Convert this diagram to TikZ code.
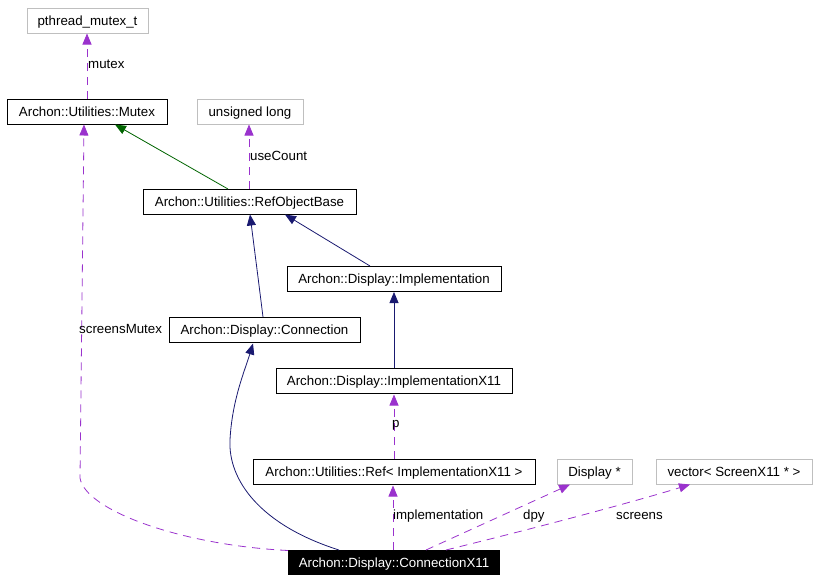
\documentclass[tikz,border=0pt]{standalone}
\usepackage{fontspec}
\setmainfont{Liberation Sans}
\usetikzlibrary{arrows.meta}
\definecolor{edgepurple}{RGB}{154,50,205}
\definecolor{edgenavy}{RGB}{25,25,112}
\definecolor{edgegreen}{RGB}{0,100,0}
\definecolor{boxgray}{RGB}{191,191,191}
\begin{document}
\begin{tikzpicture}[x=1pt,y=-1pt,
  every node/.style={font=\fontsize{13.3}{15}\selectfont},
  boxtext/.style={text height=9.6pt,text depth=0pt},
  cls/.style={boxtext,draw=black,line width=0.9pt,rectangle,inner sep=0pt,minimum height=25pt},
  ext/.style={boxtext,draw=boxgray,line width=0.9pt,rectangle,inner sep=0pt,minimum height=25pt},
  mainbox/.style={boxtext,fill=black,text=white,rectangle,inner sep=0pt,minimum height=25pt},
  inh/.style={-{Triangle[length=11pt,width=9pt,fill=edgenavy]},line width=0.8pt,draw=edgenavy},
  inhg/.style={-{Triangle[length=11pt,width=9pt,fill=edgegreen]},line width=0.8pt,draw=edgegreen},
  use/.style={-{Triangle[length=11pt,width=9pt,fill=edgepurple]},line width=0.8pt,draw=edgepurple,dash pattern=on 8pt off 6pt},
  lbl/.style={inner sep=0pt,anchor=west}]
\useasboundingbox (0,0) rectangle (817,581);
% nodes
\node[ext,minimum width=121pt] (pm) at (87.5,20.5) {pthread\_mutex\_t};
\node[cls,minimum width=160pt] (mutex) at (87,111.5) {Archon::Utilities::Mutex};
\node[ext,minimum width=106pt] (ul) at (250,111.5) {unsigned long};
\node[cls,minimum width=213pt] (rob) at (249.5,201.5) {Archon::Utilities::RefObjectBase};
\node[cls,minimum width=214pt] (impl) at (394,279) {Archon::Display::Implementation};
\node[cls,minimum width=191pt] (conn) at (264.5,330) {Archon::Display::Connection};
\node[cls,minimum width=236pt] (implx) at (394,381) {Archon::Display::ImplementationX11};
\node[cls,minimum width=282pt] (ref) at (394,472) {Archon::Utilities::Ref< ImplementationX11 >};
\node[ext,minimum width=75pt] (dpy) at (594.5,471.5) {Display *};
\node[ext,minimum width=156pt] (vec) at (734,471.5) {vector< ScreenX11 * >};
\node[mainbox,minimum width=212pt] (cx) at (394,562.5) {Archon::Display::ConnectionX11};
% attachment points
\coordinate (mutexT) at (87,99);
\coordinate (pmB) at (87,33.5);
\coordinate (robT) at (249,189);
\coordinate (ulB) at (249,124.5);
\coordinate (robTL) at (228,189);
\coordinate (mutexBR) at (115,124.5);
\coordinate (mutexBL) at (84,124.5);
\coordinate (implT) at (370,266);
\coordinate (robBR) at (285,214.5);
\coordinate (connT) at (263,317);
\coordinate (robB) at (250,214.5);
\coordinate (implxT) at (394,368);
\coordinate (implB) at (394,292);
\coordinate (connB) at (253,343.5);
\coordinate (refT) at (394,459);
\coordinate (implxB) at (394,394.5);
\coordinate (cxT1) at (288,550.5);
\coordinate (cxT2) at (339,550);
\coordinate (cxT3) at (393,550);
\coordinate (cxT4) at (426,550);
\coordinate (cxT5) at (446,550);
\coordinate (refB) at (393,485.5);
\coordinate (dpyB) at (570,484.5);
\coordinate (vecB) at (690,484.5);
% edges
\draw[use] (mutexT) -- (pmB);
\node[lbl] at (88,64) {mutex};
\draw[inhg] (robTL) -- (mutexBR);
\draw[use] (robT) -- (ulB);
\node[lbl] at (250,156) {useCount};
\draw[inh] (implT) -- (robBR);
\draw[inh] (connT) .. controls (259,285) .. (robB);
\draw[inh] (implxT) -- (implB);
\draw[inh] (cxT2) .. controls (260,525) and (228,480) .. (230,440) .. controls (232,400) and (245,370) .. (connB);
\draw[use] (refT) -- (implxB);
\node[lbl] at (392,425) {p};
\draw[use] (cxT3) -- (refB);
\node[lbl] at (393,516) {implementation};
\draw[use] (cxT4) -- (dpyB);
\node[lbl] at (523,516) {dpy};
\draw[use] (cxT5) .. controls (540,527) and (640,500) .. (vecB);
\node[lbl] at (616,516) {screens};
\draw[use] (cxT1) .. controls (180,545) and (85,510) .. (80,478) -- (mutexBL);
\node[lbl] at (79,329) {screensMutex};
\end{tikzpicture}
\end{document}
